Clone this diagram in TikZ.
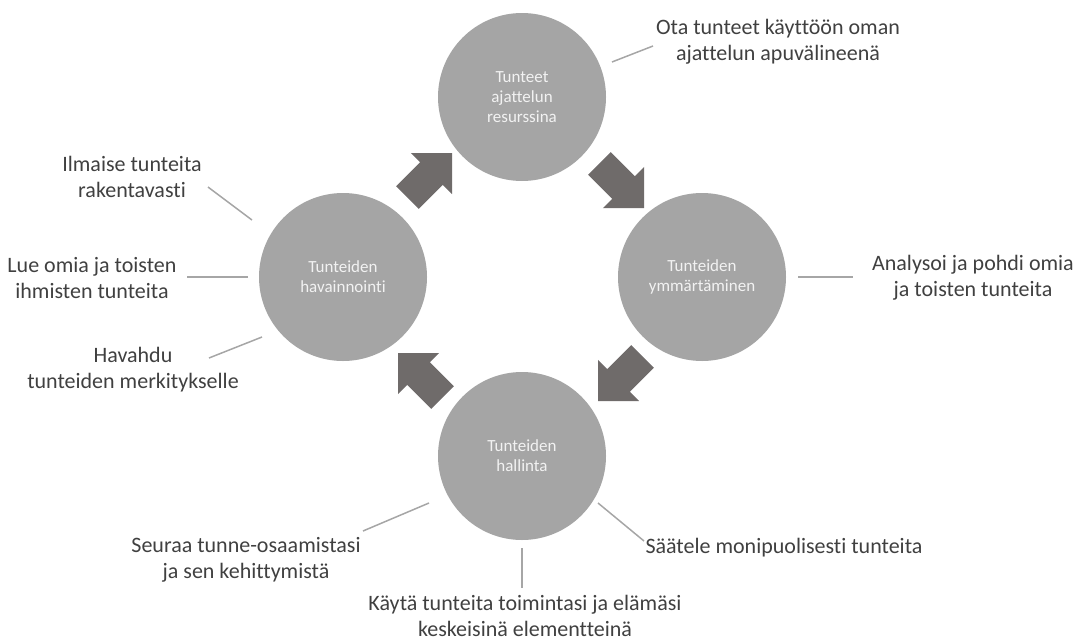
\documentclass[tikz,border=0pt]{standalone}
\usepackage{fontspec}
\setmainfont{Carlito}[Ligatures=NoCommon]
\definecolor{circfill}{HTML}{A5A5A5}
\definecolor{arrfill}{HTML}{6F6B6A}
\definecolor{txt}{HTML}{404040}
\definecolor{leadc}{HTML}{A6A6A6}
\begin{document}
\begin{tikzpicture}[x=1pt,y=-1pt,
  stage/.style={circle,fill=circfill,draw=none,minimum size=168pt,inner sep=0pt,
    text=white!95!black,align=center,font=\fontsize{17}{20}\selectfont},
  label/.style={text=txt,align=center,inner sep=0pt,font=\fontsize{22}{26}\selectfont},
  leader/.style={draw=leadc,line width=1.5pt},
  blockarrow/.style={fill=arrfill,draw=none}]
\path[use as bounding box] (0,0) rectangle (1078,640);

% circles
\node[stage] (top) at (522,97) {Tunteet\\ajattelun\\resurssina};
\node[stage] (right) at (702,277) {Tunteiden\\ymmärtäminen};
\node[stage] (bottom) at (522,456) {Tunteiden\\hallinta};
\node[stage] (left) at (343,277) {Tunteiden\\havainnointi};

% block arrows (tip at origin, pointing along +x before rotation)
\def\arrowshape{(0pt,0pt) -- (-29pt,29pt) -- (-29pt,16pt) -- (-63pt,16pt) -- (-63pt,-16pt) -- (-29pt,-16pt) -- (-29pt,-29pt) -- cycle}
\fill[blockarrow,shift={(452,153)},rotate=45] \arrowshape;
\fill[blockarrow,shift={(644,208)},rotate=-45] \arrowshape;
\fill[blockarrow,shift={(598,401)},rotate=-135] \arrowshape;
\fill[blockarrow,shift={(398,353)},rotate=135] \arrowshape;

% labels
\node[label] (ota) at (778,42) {Ota tunteet käyttöön oman\\ajattelun apuvälineenä};
\node[label] (ana) at (973,278) {Analysoi ja pohdi omia\\ja toisten tunteita};
\node[label] (ilm) at (132,177) {Ilmaise tunteita\\rakentavasti};
\node[label] (lue) at (92,278) {Lue omia ja toisten\\ihmisten tunteita};
\node[label] (hav) at (133,370) {Havahdu\\tunteiden merkitykselle};
\node[label] (seu) at (246,560) {Seuraa tunne-osaamistasi\\ja sen kehittymistä};
\node[label] (saa) at (784,548) {Säätele monipuolisesti tunteita};
\node[label] (kay) at (525,616) {Käytä tunteita toimintasi ja elämäsi\\keskeisinä elementteinä};

% leader lines
\coordinate (otaA) at (612,62); \coordinate (otaB) at (653,46);
\coordinate (anaA) at (798,277); \coordinate (anaB) at (853,277);
\coordinate (ilmA) at (252,220); \coordinate (ilmB) at (208,187);
\coordinate (lueA) at (248,277); \coordinate (lueB) at (187,277);
\coordinate (havA) at (262,337); \coordinate (havB) at (209,358);
\coordinate (seuA) at (429,503); \coordinate (seuB) at (363,531);
\coordinate (saaA) at (598,503); \coordinate (saaB) at (644,541);
\coordinate (kayA) at (522,548); \coordinate (kayB) at (522,588);
\draw[leader] (otaA) -- (otaB);
\draw[leader] (anaA) -- (anaB);
\draw[leader] (ilmA) -- (ilmB);
\draw[leader] (lueA) -- (lueB);
\draw[leader] (havA) -- (havB);
\draw[leader] (seuA) -- (seuB);
\draw[leader] (saaA) -- (saaB);
\draw[leader] (kayA) -- (kayB);
\end{tikzpicture}
\end{document}
